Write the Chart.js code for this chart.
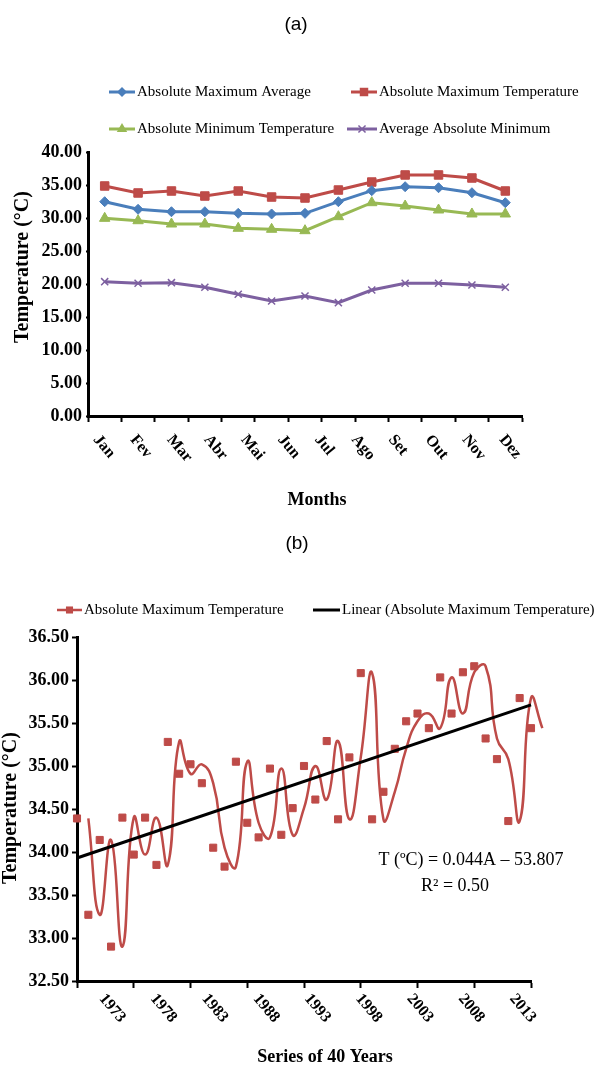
<!DOCTYPE html>
<html>
<head>
<meta charset="utf-8">
<script src="https://cdn.jsdelivr.net/npm/chart.js"></script>
<style>
  body { margin: 0; background: #fff; }
  #wrap { position: relative; width: 613px; height: 1066px; }
  canvas { position: absolute; left: 0; display: block; }
  #chartA { top: 0; }
  #chartB { top: 515px; }
</style>
</head>
<body>
<div id="wrap">
  <canvas id="chartA" width="613" height="515"></canvas>
  <canvas id="chartB" width="613" height="551"></canvas>
</div>
<script>
// Chart (a) - monthly temperatures
const months = ['Jan', 'Fev', 'Mar', 'Abr', 'Mai', 'Jun', 'Jul', 'Ago', 'Set', 'Out', 'Nov', 'Dez'];
const absMaxAverage = [32.47, 31.32, 30.95, 30.95, 30.71, 30.61, 30.71, 32.47, 34.14, 34.74, 34.59, 33.83, 32.32];
const absMaxTemp    = [34.85, 33.79, 34.09, 33.33, 34.09, 33.18, 33.03, 34.24, 35.45, 36.52, 36.52, 36.06, 34.09];
const absMinTemp    = [29.95, 29.59, 29.09, 29.09, 28.44, 28.29, 28.08, 30.20, 32.32, 31.82, 31.21, 30.61, 30.61];
const avgAbsMin     = [20.35, 20.11, 20.20, 19.50, 18.44, 17.42, 18.18, 17.17, 19.09, 20.11, 20.11, 19.85, 19.50];
const yTicksA = [0, 5, 10, 15, 20, 25, 30, 35, 40];

// Chart (b) - 40 year series
const years = ['1973', '1978', '1983', '1988', '1993', '1998', '2003', '2008', '2013'];
const annualMax = [34.39, 33.27, 34.14, 32.90, 34.40, 33.97, 34.40, 33.85, 35.28, 34.91,
                   35.02, 34.80, 34.05, 33.83, 35.05, 34.34, 34.17, 34.97, 34.20, 34.51,
                   35.00, 34.61, 35.29, 34.38, 35.10, 36.08, 34.38, 34.70, 35.20, 35.52,
                   35.61, 35.44, 36.03, 35.61, 36.09, 36.16, 35.32, 35.08, 34.36, 35.79, 35.44];
const yTicksB = [32.5, 33, 33.5, 34, 34.5, 35, 35.5, 36, 36.5];

const SERIF = "'Liberation Serif', 'Times New Roman', serif";
const SANS = "'Liberation Sans', Arial, sans-serif";
const BLUE = '#4A7EBB', RED = '#BE4B48', GREEN = '#98B954', PURPLE = '#7D60A0';

// minimos cuadrados para la recta de tendencia
function linearFit(ys) {
    const n = ys.length;
    let sx = 0, sy = 0, sxx = 0, sxy = 0;
    ys.forEach((y, x) => { sx += x; sy += y; sxx += x * x; sxy += x * y; });
    const slope = (n * sxy - sx * sy) / (n * sxx - sx * sx);
    return { slope, intercept: (sy - slope * sx) / n };
}

function drawMarker(ctx, style, r, cx, cy) {
    ctx.beginPath();
    if (style === 'rect') {
        const s = r * Math.SQRT1_2;
        ctx.rect(cx - s, cy - s, 2 * s, 2 * s);
        ctx.fill();
    } else if (style === 'rectRot') {
        ctx.moveTo(cx, cy - r); ctx.lineTo(cx + r, cy); ctx.lineTo(cx, cy + r); ctx.lineTo(cx - r, cy);
        ctx.closePath(); ctx.fill();
    } else if (style === 'triangle') {
        ctx.moveTo(cx, cy - r); ctx.lineTo(cx + r * 0.87, cy + r * 0.5); ctx.lineTo(cx - r * 0.87, cy + r * 0.5);
        ctx.closePath(); ctx.fill();
    } else if (style === 'crossRot') {
        const s = r * Math.SQRT1_2;
        ctx.lineWidth = 1.5;
        ctx.moveTo(cx - s, cy - s); ctx.lineTo(cx + s, cy + s);
        ctx.moveTo(cx - s, cy + s); ctx.lineTo(cx + s, cy - s);
        ctx.stroke();
    }
}

// Leyenda, etiquetas giradas y textos sueltos
const decorPlugin = {
    id: 'decor',
    afterDraw(chart, args, opts) {
        const ctx = chart.ctx;
        const area = chart.chartArea;
        ctx.save();

        const tl = opts.tickLabels;
        if (tl) {
            ctx.fillStyle = '#000';
            ctx.font = tl.font;
            ctx.textAlign = 'left';
            ctx.textBaseline = 'middle';
            tl.labels.forEach((lab, k) => {
                const px = chart.scales.x.getPixelForValue(tl.start + k * tl.step);
                ctx.save();
                ctx.translate(px, area.bottom + tl.dy);
                ctx.rotate(tl.angle * Math.PI / 180);
                ctx.fillText(lab, 0, 0);
                ctx.restore();
            });
        }

        (opts.legend || []).forEach(item => {
            const ds = chart.data.datasets[item.ds];
            ctx.strokeStyle = ds.borderColor;
            ctx.fillStyle = ds.borderColor;
            ctx.lineWidth = item.lineWidth || ds.borderWidth;
            ctx.beginPath();
            ctx.moveTo(item.x, item.y);
            ctx.lineTo(item.x + item.len, item.y);
            ctx.stroke();
            if (ds.pointStyle && ds.pointRadius > 0) {
                drawMarker(ctx, ds.pointStyle, ds.pointRadius, item.x + item.len / 2, item.y);
            }
            ctx.fillStyle = '#000';
            ctx.font = opts.legendFont;
            ctx.textAlign = 'left';
            ctx.textBaseline = 'middle';
            ctx.fillText(ds.label, item.x + item.len + 2, item.y);
        });

        (opts.texts || []).forEach(t => {
            ctx.save();
            ctx.fillStyle = '#000';
            ctx.font = t.font;
            ctx.textAlign = 'center';
            ctx.textBaseline = 'middle';
            ctx.translate(t.x, t.y);
            if (t.rotate) ctx.rotate(t.rotate * Math.PI / 180);
            ctx.fillText(t.text, 0, 0);
            ctx.restore();
        });
        ctx.restore();
    }
};

const tickFont = { family: SERIF, weight: 'bold', size: 18 };
const pts = (arr, shift) => arr.map((v, i) => ({ x: i + shift, y: v }));

function lineSet(label, data, color, style, radius) {
    return {
        label, data: pts(data, 0.5),
        borderColor: color, backgroundColor: color,
        pointBackgroundColor: color, pointBorderColor: color,
        borderWidth: 3, pointStyle: style, pointRadius: radius, pointBorderWidth: style === 'crossRot' ? 1.5 : 1,
        tension: 0
    };
}

function initChartA() {
    const ctx = document.getElementById('chartA').getContext('2d');
    new Chart(ctx, {
        type: 'line',
        data: {
            datasets: [
                lineSet('Absolute Maximum Average', absMaxAverage, BLUE, 'rectRot', 5),
                lineSet('Absolute Maximum Temperature', absMaxTemp, RED, 'rect', 6),
                lineSet('Absolute Minimum Temperature', absMinTemp, GREEN, 'triangle', 6),
                lineSet('Average Absolute Minimum', avgAbsMin, PURPLE, 'crossRot', 5)
            ]
        },
        options: {
            responsive: false,
            devicePixelRatio: 1,
            animation: false,
            events: [],
            layout: { padding: { top: 152, right: 91, bottom: 0, left: 0 } },
            plugins: {
                legend: { display: false },
                title: { display: false },
                tooltip: { enabled: false },
                decor: {
                    legendFont: '15px ' + SERIF,
                    legend: [
                        { ds: 0, x: 109, y: 92, len: 26 },
                        { ds: 1, x: 351, y: 92, len: 26 },
                        { ds: 2, x: 109, y: 129, len: 26 },
                        { ds: 3, x: 347, y: 129, len: 30 }
                    ],
                    tickLabels: { labels: months, start: 0.24, step: 1.105, dy: 21, angle: 50, font: 'bold 16px ' + SERIF },
                    texts: [
                        { text: '(a)', x: 296, y: 25, font: '19px ' + SANS },
                        { text: 'Temperature (°C)', x: 23, y: 267, rotate: -90, font: 'bold 20px ' + SERIF },
                        { text: 'Months', x: 317, y: 500, font: 'bold 18px ' + SERIF }
                    ]
                }
            },
            scales: {
                x: {
                    type: 'linear', min: 0, max: 13,
                    ticks: { stepSize: 1, display: false },
                    grid: { drawOnChartArea: false, color: '#000', tickLength: 6, tickWidth: 2 },
                    border: { color: '#000', width: 3 },
                    afterFit: s => { s.height = 99; }
                },
                y: {
                    min: 0, max: 40,
                    afterBuildTicks: s => { s.ticks = yTicksA.map(v => ({ value: v })); },
                    ticks: { font: tickFont, color: '#000', padding: 4, callback: v => v.toFixed(2) },
                    grid: { drawOnChartArea: false, color: '#000', tickLength: 2, tickWidth: 2 },
                    border: { color: '#000', width: 3 },
                    afterFit: s => { s.width = 88; }
                }
            }
        },
        plugins: [decorPlugin]
    });
}

function initChartB() {
    const fit = linearFit(annualMax);
    const last = annualMax.length - 1;
    const ctx = document.getElementById('chartB').getContext('2d');
    new Chart(ctx, {
        type: 'line',
        data: {
            datasets: [{
                label: 'Linear (Absolute Maximum Temperature)',
                data: [{ x: 0, y: fit.intercept }, { x: last, y: fit.intercept + fit.slope * last }],
                borderColor: '#000', borderWidth: 3, pointRadius: 0, tension: 0
            }, {
                label: 'Absolute Maximum Temperature',
                data: pts(annualMax, 0),
                showLine: false, clip: false,
                borderColor: RED, backgroundColor: RED,
                pointBackgroundColor: RED, pointBorderColor: RED,
                pointStyle: 'rect', pointRadius: 5, borderWidth: 1
            }, {
                label: 'Absolute Maximum Temperature (smoothed)',
                data: pts(annualMax, 1),
                borderColor: RED, borderWidth: 2.5, pointRadius: 0,
                tension: 0.5, clip: false
            }]
        },
        options: {
            responsive: false,
            devicePixelRatio: 1,
            animation: false,
            events: [],
            layout: { padding: { top: 122, right: 82, bottom: 0, left: 0 } },
            plugins: {
                legend: { display: false },
                title: { display: false },
                tooltip: { enabled: false },
                decor: {
                    legendFont: '15px ' + SERIF,
                    legend: [
                        { ds: 1, x: 57, y: 95, len: 25, lineWidth: 2.5 },
                        { ds: 0, x: 313, y: 95, len: 27 }
                    ],
                    tickLabels: { labels: years, start: 2.2, step: 4.52, dy: 15, angle: 50, font: 'bold 16px ' + SERIF },
                    texts: [
                        { text: '(b)', x: 297, y: 29, font: '19px ' + SANS },
                        { text: 'Temperature (°C)', x: 11, y: 293, rotate: -90, font: 'bold 20px ' + SERIF },
                        { text: 'Series of 40 Years', x: 325, y: 542, font: 'bold 18px ' + SERIF },
                        { text: 'T (ºC) = 0.044A – 53.807', x: 471, y: 345, font: '18px ' + SERIF },
                        { text: 'R² = 0.50', x: 455, y: 371, font: '18px ' + SERIF }
                    ]
                }
            },
            scales: {
                x: {
                    type: 'linear',
                    // limites fijados aqui para que la curva desplazada no se recorte al final
                    afterDataLimits: s => { s.min = 0; s.max = last; },
                    ticks: { stepSize: 5, display: false },
                    grid: { drawOnChartArea: false, color: '#000', tickLength: 7, tickWidth: 2 },
                    border: { color: '#000', width: 3 },
                    afterFit: s => { s.height = 85; }
                },
                y: {
                    min: 32.5, max: 36.5,
                    afterBuildTicks: s => { s.ticks = yTicksB.map(v => ({ value: v })); },
                    ticks: { font: tickFont, color: '#000', padding: 3, callback: v => v.toFixed(2) },
                    grid: { drawOnChartArea: false, color: '#000', tickLength: 5, tickWidth: 2 },
                    border: { color: '#000', width: 3 },
                    afterFit: s => { s.width = 77; }
                }
            }
        },
        plugins: [decorPlugin]
    });
}

document.addEventListener('DOMContentLoaded', () => {
    initChartA();
    initChartB();
});
</script>
</body>
</html>
